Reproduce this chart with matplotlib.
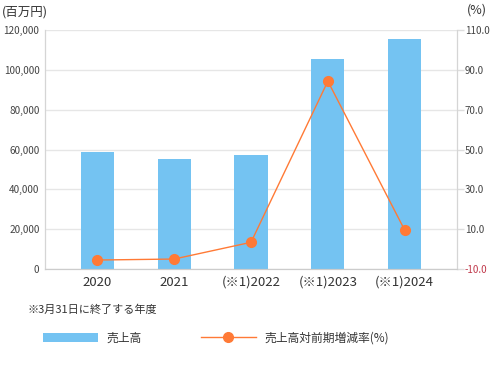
import matplotlib.pyplot as plt
from matplotlib.lines import Line2D
from matplotlib.patches import Patch

plt.rcParams['font.family'] = ['Noto Sans CJK JP', 'DejaVu Sans']

categories = ['2020', '2021', '(※1)2022', '(※1)2023', '(※1)2024']
sales = [58700, 55200, 57200, 105400, 115500]
growth = [-5.5, -5.0, 3.4, 84.3, 9.5]

left_ticks = [0, 20000, 40000, 60000, 80000, 100000, 120000]
right_ticks = [-10, 10, 30, 50, 70, 90, 110]

bar_color = '#74C3F2'
line_color = '#FF7A36'
grid_color = '#E6E6E6'
text_color = '#444444'

fig = plt.figure(figsize=(4.9, 3.7), dpi=100)
ax = fig.add_axes([45 / 490, 101 / 370, 412 / 490, 239 / 370])
ax2 = ax.twinx()

x = range(len(categories))
ax.bar(x, sales, width=0.43, color=bar_color, zorder=2)
ax.set_ylim(0, 120000)
ax.set_xlim(-0.68, 4.68)
ax.set_yticks(left_ticks)
ax.set_yticklabels([f'{v:,}' for v in left_ticks], fontsize=7.2, color=text_color)
ax.set_xticks(list(x))
ax.set_xticklabels(categories, fontsize=9.5, color='#333333')
ax.grid(axis='y', color=grid_color, linewidth=1, zorder=0)
ax.tick_params(axis='y', length=0, pad=4)
ax.tick_params(axis='x', length=0, pad=5)

ax2.plot(x, growth, color=line_color, linewidth=1, marker='o', markersize=7, zorder=3)
ax2.set_ylim(-10, 110)
ax2.set_yticks(right_ticks)
ax2.set_yticklabels([f'{v:.1f}' for v in right_ticks], fontsize=7, color=text_color)
ax2.get_yticklabels()[0].set_color('#C0394B')
ax2.tick_params(axis='y', length=5, width=1, color='#DDDDDD', pad=0.5)

for a in (ax, ax2):
    a.spines['top'].set_visible(False)
    a.spines['left'].set_color('#D5D5D5')
    a.spines['right'].set_color('#D5D5D5')
    a.spines['bottom'].set_color('#CCCCCC')

fig.text(2 / 490, 1 - 12 / 370, '(百万円)', fontsize=9, color='#333333', va='center')
fig.text(487 / 490, 1 - 10 / 370, '(%)', fontsize=9, color='#333333', va='center', ha='right')
fig.text(27 / 490, 1 - 310 / 370, '※3月31日に終了する年度', fontsize=8, color='#333333', va='center')

handles = [Patch(facecolor=bar_color, edgecolor='none'),
           Line2D([], [], color=line_color, linewidth=1, marker='o', markersize=7)]
fig.legend(handles, ['売上高', '売上高対前期増減率(%)'], loc='center left',
           bbox_to_anchor=(32 / 490, 1 - 338 / 370), ncol=2, frameon=False,
           fontsize=8.5, handlelength=4.7, handleheight=0.7, handletextpad=0.7,
           columnspacing=5.0, labelcolor='#333333')

fig.savefig('out.png', dpi=100)
